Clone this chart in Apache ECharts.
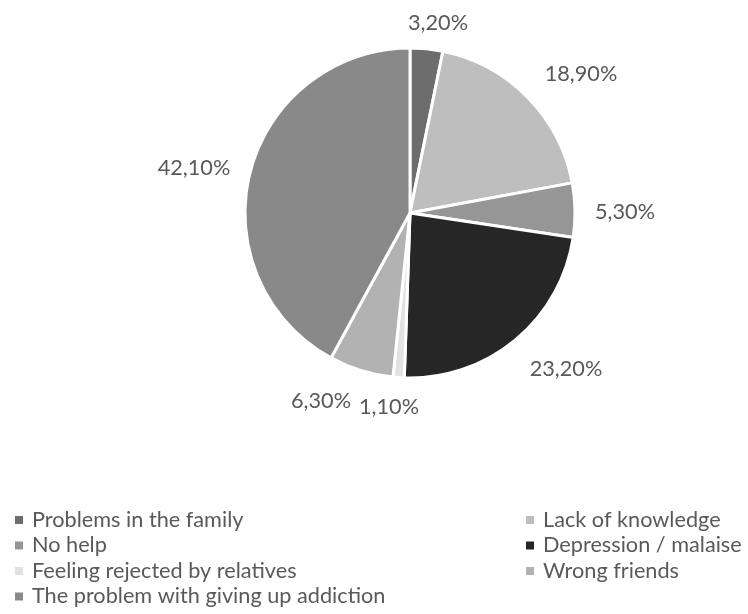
<!DOCTYPE html>
<html>
<head>
<meta charset="utf-8">
<script src="https://cdn.jsdelivr.net/npm/echarts@6/dist/echarts.min.js"></script>
<style>
html,body{margin:0;padding:0;background:#fff;}
#chart{width:748px;height:614px;}
</style>
</head>
<body>
<div id="chart"></div>
<script>
const categories = [
  "Problems in the family",
  "Lack of knowledge",
  "No help",
  "Depression / malaise",
  "Feeling rejected by relatives",
  "Wrong friends",
  "The problem with giving up addiction"
];
const values = [3.2, 18.9, 5.3, 23.2, 1.1, 6.3, 42.1];
const labels = ["3,20%", "18,90%", "5,30%", "23,20%", "1,10%", "6,30%", "42,10%"];

const colors = ["#6d6d6d", "#bebebe", "#969696", "#262626", "#e2e2e2", "#b2b2b2", "#898989"];
const FONT = "Lato";
const TEXT_COLOR = "#595959";
// label centre positions (px) as placed in the original
const labelPos = [[438,23],[581,74],[625,212],[566,369],[389,407],[321,401],[194,168]];

const chart = echarts.init(document.getElementById('chart'), null, {renderer:'canvas'});

const legendCommon = {
  orient: 'vertical',
  top: 509,
  height: 110,
  padding: 0,
  icon: 'rect',
  itemWidth: 8,
  itemHeight: 8,
  itemGap: 3.5,
  selectedMode: false,
  itemStyle: {borderWidth: 0},
  textStyle: {fontFamily: FONT, fontSize: 21.7, color: TEXT_COLOR, lineHeight: 20, padding: [0,0,0,4]}
};

chart.setOption({
  animation: false,
  color: colors,
  legend: [
    Object.assign({}, legendCommon, {left: 15, data: [categories[0], categories[2], categories[4], categories[6]]}),
    Object.assign({}, legendCommon, {left: 526, data: [categories[1], categories[3], categories[5]]})
  ],
  series: [{
    type: 'pie',
    center: [410, 213],
    radius: 165,
    startAngle: 90,
    clockwise: true,
    itemStyle: {borderColor: '#ffffff', borderWidth: 3},
    label: {
      show: true,
      position: 'outside',
      fontFamily: FONT,
      fontSize: 21.7,
      color: TEXT_COLOR,
      formatter: p => labels[p.dataIndex]
    },
    labelLine: {show: false},
    labelLayout: function (p) {
      const pos = labelPos[p.dataIndex];
      return {x: pos[0], y: pos[1], align: 'center', verticalAlign: 'middle'};
    },
    data: categories.map((c, i) => ({name: c, value: values[i]}))
  }]
});
</script>
</body>
</html>
